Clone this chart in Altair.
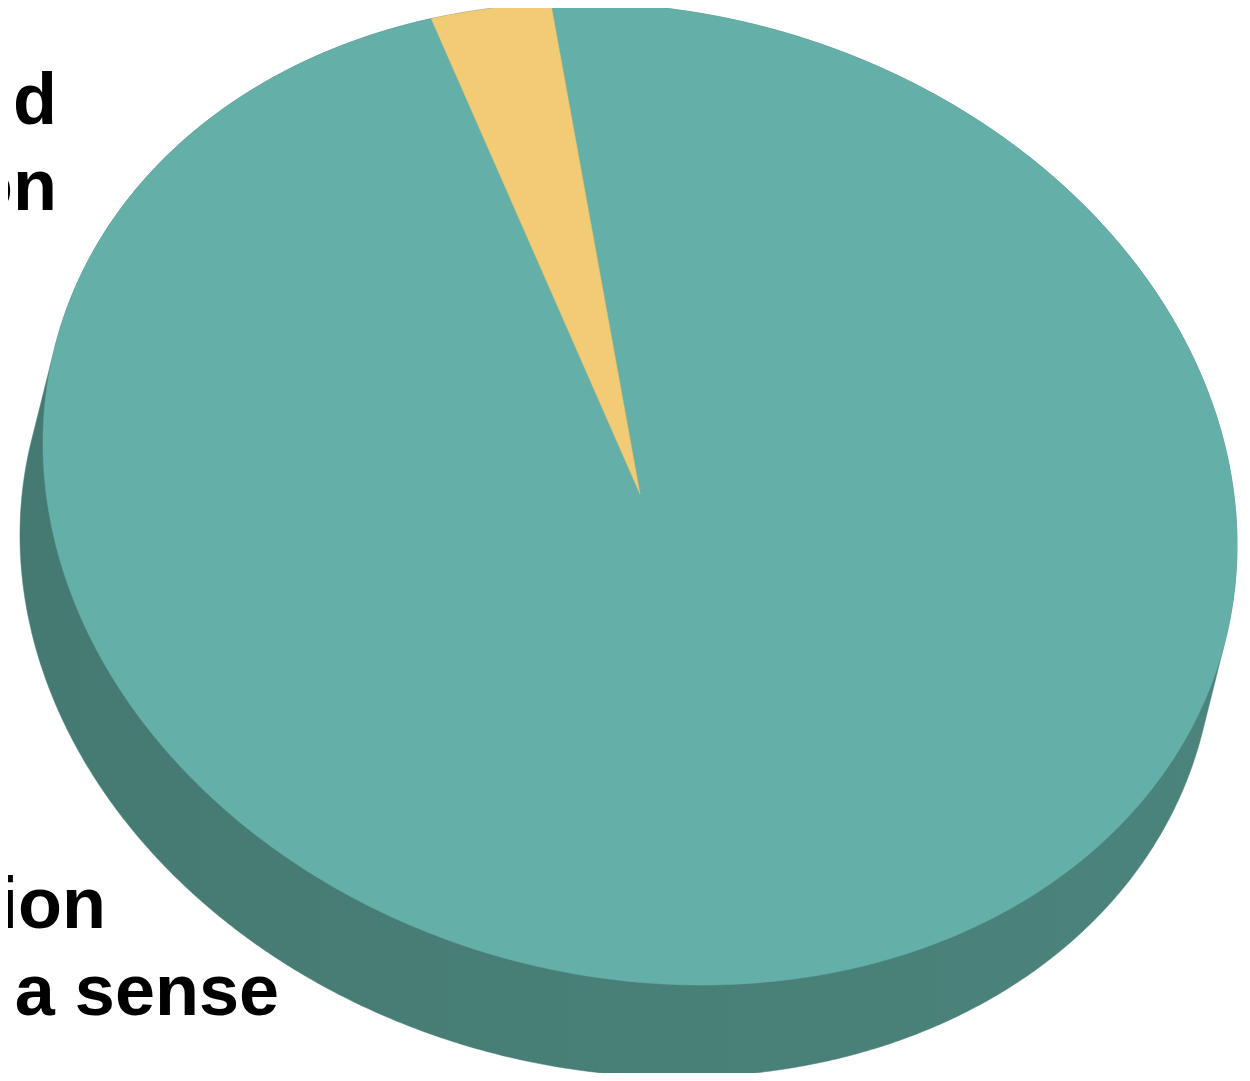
import altair as alt
import numpy as np
import pandas as pd

# ---- data ----
categories = ["Main answer", "Other answer"]
values = [96.7, 3.3]
slice_colors = ["#64B0A8", "#F3CB75"]
side_color_left = "#457A72"
side_color_right = "#4B847C"

label_lines = ["d", "on", "ion", "a sense"]
label_x = [57, 57, 106, 279]
label_y = [124, 210, 928, 1015]

# ---- pie geometry (layout parameters) ----
CX, CY = 640.0, 494.0          # centre of the top face
A, B = 603.3, 483.3            # semi axes of the top face
ROT = np.deg2rad(13.9)         # tilt of the ellipse
START = np.deg2rad(-109.8)     # start angle of first slice
DX, DY = -23.0, 92.0           # extrusion (depth) of the 3D pie
W, H = 1234, 1065
X0, Y0 = 8, 8


def ell(t, dx=0.0, dy=0.0):
    ct, st = np.cos(t), np.sin(t)
    x = A * ct * np.cos(ROT) - B * st * np.sin(ROT)
    y = A * ct * np.sin(ROT) + B * st * np.cos(ROT)
    return CX + x + dx, CY + y + dy


def hull(points):
    pts = sorted(set(points))
    def cross(o, a, b):
        return (a[0] - o[0]) * (b[1] - o[1]) - (a[1] - o[1]) * (b[0] - o[0])
    lower, upper = [], []
    for p in pts:
        while len(lower) >= 2 and cross(lower[-2], lower[-1], p) <= 0:
            lower.pop()
        lower.append(p)
    for p in reversed(pts):
        while len(upper) >= 2 and cross(upper[-2], upper[-1], p) <= 0:
            upper.pop()
        upper.append(p)
    return lower[:-1] + upper[:-1]


rows = []
# side (convex hull of top and bottom faces)
tt = np.linspace(0, 2 * np.pi, 720, endpoint=False)
xs1, ys1 = ell(tt)
xs2, ys2 = ell(tt, DX, DY)
pts = [(round(float(a), 3), round(float(b), 3)) for a, b in zip(xs1, ys1)] + \
      [(round(float(a), 3), round(float(b), 3)) for a, b in zip(xs2, ys2)]
h = hull(pts)
h.append(h[0])
for i, (x, y) in enumerate(h):
    rows.append({"shape": "side", "i": i, "x": x, "y": y})

# slices of the top face
total = sum(values)
a0 = START
for cat, v in zip(categories, values):
    a1 = a0 + 2 * np.pi * v / total
    n = max(4, int(abs(a1 - a0) / (2 * np.pi) * 720))
    ts = np.linspace(a0, a1, n)
    xs, ys = ell(ts)
    seq = [(CX, CY)] + list(zip(xs, ys)) + [(CX, CY)]
    for i, (x, y) in enumerate(seq):
        rows.append({"shape": cat, "i": i, "x": float(x), "y": float(y)})
    a0 = a1

df = pd.DataFrame(rows)
labels = pd.DataFrame({"text": label_lines, "x": label_x, "y": label_y})

xs = alt.Scale(domain=[X0, X0 + W], nice=False, zero=False)
ys = alt.Scale(domain=[Y0, Y0 + H], nice=False, zero=False, reverse=True)

base = alt.Chart(df).encode(
    x=alt.X("x:Q", scale=xs, axis=None),
    y=alt.Y("y:Q", scale=ys, axis=None),
    order=alt.Order("i:Q"),
)

side_grad = alt.Gradient(
    gradient="linear",
    stops=[alt.GradientStop(color=side_color_left, offset=0),
           alt.GradientStop(color=side_color_right, offset=1)],
    x1=0, x2=1, y1=0, y2=0,
)

layers = [
    base.transform_filter(alt.datum.shape == "side").mark_line(
        fill=side_grad, stroke=side_color_left, strokeWidth=0.5, interpolate="linear")
]
for cat, col in zip(categories, slice_colors):
    layers.append(
        base.transform_filter(alt.datum.shape == cat).mark_line(
            fill=col, stroke=col, strokeWidth=0.5, interpolate="linear")
    )

text = alt.Chart(labels).mark_text(
    align="right", baseline="alphabetic", font="Liberation Sans",
    fontWeight="bold", fontSize=72, color="black"
).encode(
    x=alt.X("x:Q", scale=xs, axis=None),
    y=alt.Y("y:Q", scale=ys, axis=None),
    text="text:N",
)

chart = alt.layer(*layers, text).properties(
    width=W, height=H,
    autosize=alt.AutoSizeParams(type="none"),
    padding=0,
    background="white",
).configure_view(stroke=None)

chart.save("out.html", embed_options={"renderer": "svg", "actions": False})
